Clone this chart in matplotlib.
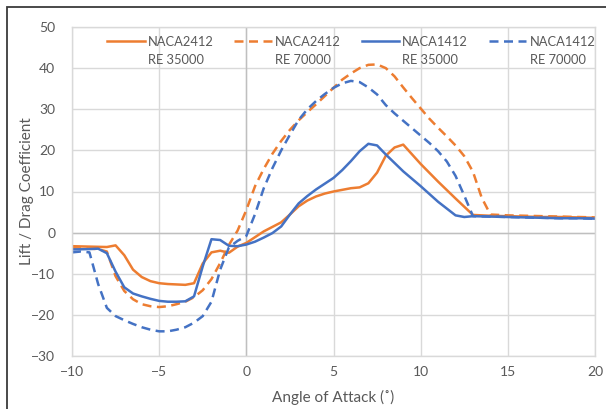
import matplotlib.pyplot as plt
import numpy as np
from matplotlib.legend_handler import HandlerLine2D
from matplotlib.patches import Rectangle

plt.rcParams['font.family'] = ['Lato', 'DejaVu Sans']

# Lift/drag ratio vs angle of attack, four airfoil / Reynolds number cases
x_2412_35 = [-10, -9, -8, -7.5, -7, -6.5, -6, -5.5, -5, -4.5, -4, -3.5, -3, -2.5, -2,
             -1.5, -1, -0.5, 0, 0.5, 1, 1.5, 2, 2.5, 3, 3.5, 4, 4.5, 5, 5.5, 6, 6.5,
             7, 7.5, 8, 8.5, 9, 10, 11, 12, 13, 14, 15, 16, 17, 18, 19, 20]
y_2412_35 = [-3.3, -3.4, -3.5, -3.1, -5.5, -9.0, -10.8, -11.8, -12.3, -12.5, -12.6,
             -12.7, -12.3, -7.5, -4.8, -4.4, -4.9, -3.4, -2.5, -1.1, 0.3, 1.4, 2.5,
             4.4, 6.4, 7.8, 8.8, 9.5, 10.0, 10.4, 10.8, 11.0, 12.0, 14.6, 18.7, 20.7,
             21.4, 16.7, 12.4, 8.3, 4.3, 4.1, 4.0, 3.9, 3.8, 3.8, 3.7, 3.6]

x_2412_70 = [-10, -9, -8.5, -8, -7.5, -7, -6.5, -6, -5.5, -5, -4.5, -4, -3.5, -3, -2.5,
             -2, -1.5, -1, -0.5, 0, 0.5, 1, 1.5, 2, 2.5, 3, 3.5, 4, 4.5, 5, 5.5, 6,
             6.5, 7, 7.5, 8, 8.5, 9, 9.5, 10, 10.5, 11, 11.5, 12, 12.5, 13, 13.5, 14,
             15, 16, 17, 18, 19, 20]
y_2412_70 = [-3.8, -3.9, -4.0, -4.6, -10.6, -14.2, -16.2, -17.4, -17.9, -18.1, -17.9,
             -17.4, -16.8, -15.7, -14.0, -11.3, -7.4, -3.0, 0.5, 5.5, 11.3, 15.5,
             19.2, 22.3, 25.0, 27.3, 29.3, 31.2, 33.2, 35.2, 37.2, 38.7, 40.0, 40.8,
             40.9, 40.0, 38.0, 35.3, 32.7, 30.2, 27.7, 25.5, 23.4, 21.2, 18.6, 14.8,
             8.5, 4.4, 4.2, 4.1, 4.0, 3.9, 3.8, 3.7]

x_1412_35 = [-10, -9, -8.5, -8, -7.5, -7, -6.5, -6, -5.5, -5, -4.5, -4, -3.5, -3, -2.5,
             -2, -1.5, -1, -0.5, 0, 0.5, 1, 1.5, 2, 2.5, 3, 3.5, 4, 4.5, 5, 5.5, 6,
             6.5, 7, 7.5, 8, 9, 10, 11, 12, 12.5, 13, 14, 15, 16, 17, 18, 19, 20]
y_1412_35 = [-4.1, -4.0, -3.9, -5.0, -9.5, -13.3, -14.8, -15.5, -16.1, -16.6, -16.8,
             -16.8, -16.7, -15.5, -8.2, -1.6, -1.8, -3.2, -3.3, -2.9, -2.2, -1.2, -0.1,
             1.5, 4.4, 7.1, 8.9, 10.5, 11.9, 13.3, 15.2, 17.4, 19.8, 21.6, 21.2, 19.0,
             14.9, 11.3, 7.5, 4.2, 3.8, 4.0, 3.9, 3.8, 3.7, 3.6, 3.5, 3.5, 3.4]

x_1412_70 = [-10, -9.5, -9, -8.5, -8, -7.5, -7, -6.5, -6, -5.5, -5, -4.5, -4, -3.5, -3,
             -2.5, -2, -1.5, -1, -0.5, 0, 0.5, 1, 1.5, 2, 2.5, 3, 3.5, 4, 4.5, 5, 5.5,
             6, 6.5, 7, 7.5, 8, 8.5, 9, 9.5, 10, 10.5, 11, 11.5, 12, 12.5, 13, 14, 15,
             16, 17, 18, 19, 20]
y_1412_70 = [-4.8, -4.6, -4.8, -12.5, -18.3, -20.3, -21.3, -22.2, -23.0, -23.6, -24.0,
             -24.0, -23.6, -23.0, -21.9, -20.3, -16.8, -9.0, -3.6, -2.0, -0.8, 4.5,
             10.8, 15.7, 20.0, 23.8, 27.4, 30.0, 32.0, 33.7, 35.2, 36.3, 36.9, 36.6,
             35.3, 33.6, 31.0, 29.0, 27.2, 25.4, 23.6, 21.8, 19.8, 17.3, 13.8, 9.0,
             4.0, 3.9, 3.8, 3.7, 3.6, 3.5, 3.5, 3.4]

labels = ['NACA2412\nRE 35000', 'NACA2412\nRE 70000',
          'NACA1412\nRE 35000', 'NACA1412\nRE 70000']

ORANGE = '#ED7D31'
BLUE = '#4472C4'
GRID = '#D9D9D9'
TXT = '#595959'
DASH = (3.6, 2.2)


class TopHandler(HandlerLine2D):
    """Legend line placed at the first text line instead of the middle."""
    def create_artists(self, legend, orig_handle, xdescent, ydescent,
                       width, height, fontsize, trans):
        arts = super().create_artists(legend, orig_handle, xdescent, ydescent,
                                      width, height, fontsize, trans)
        for a in arts:
            a.set_ydata(np.asarray(a.get_ydata()) + 0.8 * fontsize)
        return arts


fig = plt.figure(figsize=(6.06, 4.09), dpi=100)
ax = fig.add_axes([72 / 606, 53 / 409, 523 / 606, 329 / 409])

l1, = ax.plot(x_2412_35, y_2412_35, color=ORANGE, lw=1.8, solid_joinstyle='round')
l2, = ax.plot(x_2412_70, y_2412_70, color=ORANGE, lw=1.8, dashes=DASH)
l3, = ax.plot(x_1412_35, y_1412_35, color=BLUE, lw=1.8, solid_joinstyle='round')
l4, = ax.plot(x_1412_70, y_1412_70, color=BLUE, lw=1.8, dashes=DASH)

ax.set_xlim(-10, 20)
ax.set_ylim(-30, 50)
ax.set_xticks(np.arange(-10, 21, 5))
ax.set_yticks(np.arange(-30, 51, 10))
ax.grid(True, color=GRID, lw=1)
ax.set_axisbelow(True)
ax.axhline(0, color='#BFBFBF', lw=1, zorder=0.9)
ax.axvline(0, color='#BFBFBF', lw=1, zorder=0.9)
for s in ax.spines.values():
    s.set_color(GRID)
    s.set_linewidth(1)
ax.tick_params(length=0, labelsize=10, labelcolor=TXT)
ax.tick_params(axis='y', pad=12)
ax.tick_params(axis='x', pad=7)

ax.set_xlabel('Angle of Attack (˚)', fontsize=11, color=TXT, labelpad=9)
ax.set_ylabel('Lift / Drag Coefficient', fontsize=11, color=TXT, labelpad=-2)

hmap = {h: TopHandler() for h in (l1, l2, l3, l4)}
leg = ax.legend([l1, l2, l3, l4], labels, loc='upper left', ncol=4,
                frameon=False, fontsize=9.3, handlelength=2.9, handletextpad=0.25,
                columnspacing=1.6, bbox_to_anchor=(0.045, 1.008),
                handler_map=hmap, labelcolor=TXT)
for t in leg.get_texts():
    t.set_linespacing(1.6)

# outer frame around the chart area
fig.patches.append(Rectangle((7 / 606, -0.05), 1.1, (402 / 409) + 0.05,
                             transform=fig.transFigure, fill=False,
                             edgecolor='#3A3A3A', lw=1.3))

fig.savefig('out.png', dpi=100)
